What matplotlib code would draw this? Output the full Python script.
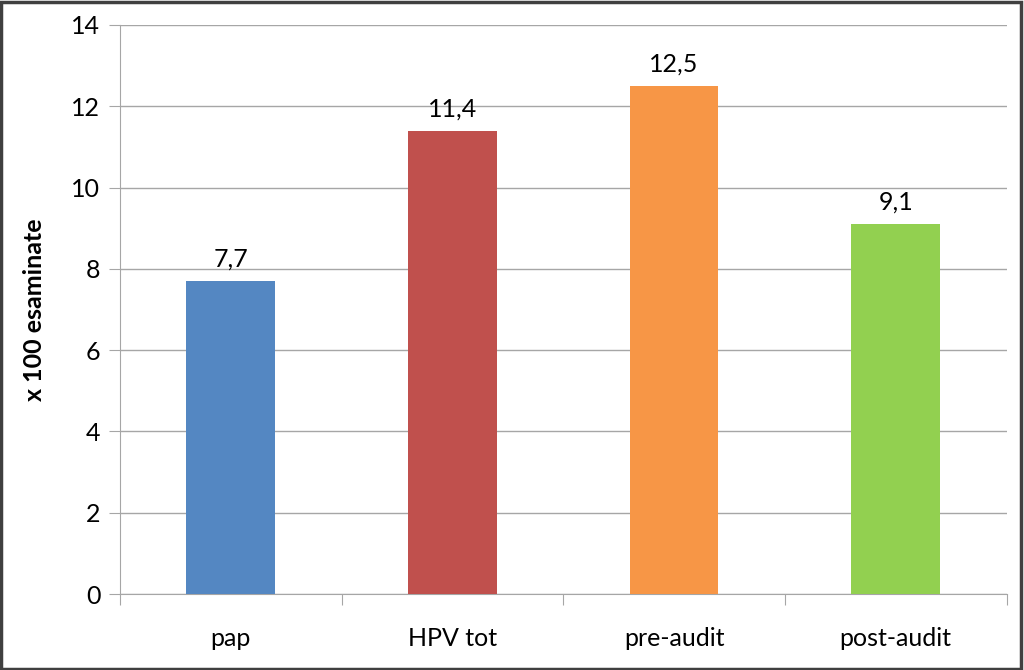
import matplotlib.pyplot as plt
from matplotlib.patches import Rectangle

categories = ['pap', 'HPV tot', 'pre-audit', 'post-audit']
values = [7.7, 11.4, 12.5, 9.1]
labels = ['7,7', '11,4', '12,5', '9,1']
colors = ['#5487c2', '#c0504d', '#f79646', '#92d050']
yticks = [0, 2, 4, 6, 8, 10, 12, 14]

plt.rcParams['font.family'] = ['Lato', 'DejaVu Sans']

fig = plt.figure(figsize=(10.24, 6.7), dpi=100)
ax = fig.add_axes([0.117, 0.1134, 0.866, 0.8493])

x = range(len(categories))
bars = ax.bar(x, values, width=0.4, color=colors, zorder=3)
for b, lab in zip(bars, labels):
    ax.text(b.get_x() + b.get_width() / 2, b.get_height() + 0.25, lab,
            ha='center', va='bottom', fontsize=18, color='#000000')

ax.set_xlim(-0.5, len(categories) - 0.5)
ax.set_ylim(0, 14)
ax.set_yticks(yticks)
ax.set_yticklabels([str(v) for v in yticks], fontsize=18)
ax.yaxis.grid(True, color='#a6a6a6', linewidth=1, zorder=0)
ax.tick_params(axis='y', length=8, color='#a6a6a6', pad=6)

# category ticks at boundaries
ax.set_xticks([i - 0.5 for i in range(len(categories) + 1)], minor=False)
ax.set_xticklabels([])
ax.set_xticks(list(x), minor=True)
ax.set_xticklabels(categories, minor=True, fontsize=18)
ax.tick_params(axis='x', which='major', length=8, color='#a6a6a6')
ax.tick_params(axis='x', which='minor', length=0, pad=24)

for s in ['top', 'right']:
    ax.spines[s].set_visible(False)
ax.spines['left'].set_color('#a6a6a6')
ax.spines['bottom'].set_color('#a6a6a6')

ax.set_ylabel('x 100 esaminate', fontsize=18, fontweight='bold', labelpad=18)

fig.patches.append(Rectangle((0.001, 0.002), 0.996, 0.995, transform=fig.transFigure,
                             fill=False, edgecolor='#404040', linewidth=2.5))

fig.savefig('out.png', dpi=100)
